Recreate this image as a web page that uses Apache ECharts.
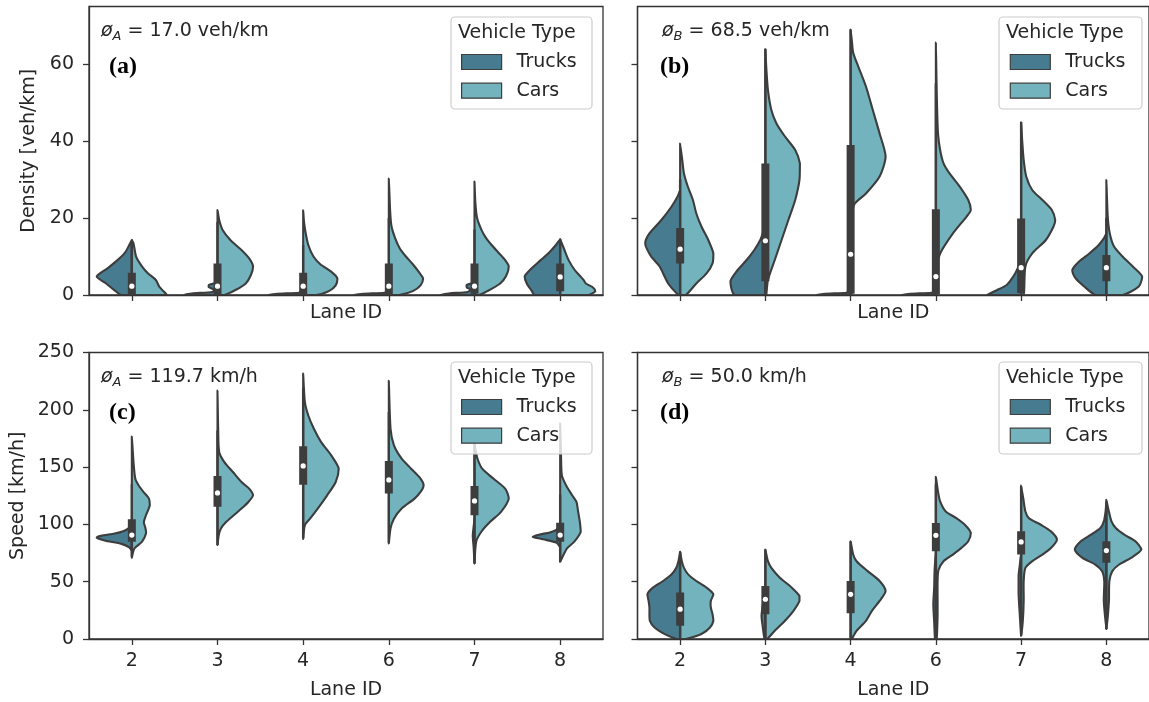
<!DOCTYPE html>
<html><head><meta charset="utf-8">
<script src="https://cdn.jsdelivr.net/npm/echarts@6/dist/echarts.min.js"></script>
<style>html,body{margin:0;padding:0;background:#fff}#c{width:1149px;height:702px}</style>
</head><body><div id="c"></div><script>
// ---------------- data ----------------
const lanes = ['2', '3', '4', '6', '7', '8'];
const laneIndex = [0, 1, 2, 3, 4, 5];
const densityTicks = [0, 20, 40, 60];
const speedTicks = [0, 50, 100, 150, 200, 250];
const densityMax = 75;
const speedMax = 250;
const seriesNames = ['Trucks', 'Cars'];

// violin half profiles: [value, half-width in lane units]
const densityA_trucks = [
  [[0,0.125],[1,0.19],[3,0.30],[4.8,0.41],[7,0.28],[9,0.17],[11,0.08],[13,0.03],[14.3,0]],
  [[0,0.39],[0.4,0.3],[0.8,0.06],[1.4,0.04],[2,0.1],[2.6,0.1],[3.2,0]],
  [[0,0.41],[0.3,0.3],[0.6,0.05],[1,0]],
  [[0,0.41],[0.3,0.3],[0.6,0.05],[1,0]],
  [[0,0.40],[0.4,0.3],[0.8,0.08],[1.4,0.05],[2,0.09],[2.6,0.09],[3.2,0]],
  [[0,0.3],[1,0.33],[3,0.39],[4.8,0.415],[7,0.33],[9,0.23],[11,0.13],[13,0.05],[14.5,0]]
];
const densityA_cars = [
  [[0,0.41],[2.2,0.32],[3.9,0.28],[5.6,0.19],[7.4,0.12],[10,0.05],[13.4,0.02],[14.3,0]],
  [[0,0.08],[1.3,0.21],[3,0.33],[5.2,0.39],[7.4,0.415],[9.5,0.37],[11.7,0.28],[14.3,0.15],[16.9,0.06],[19.5,0.02],[22.1,0]],
  [[0,0.15],[1,0.3],[2.5,0.38],[4.3,0.40],[6,0.33],[8,0.2],[10,0.12],[13,0.06],[16,0.03],[19,0.01],[22,0]],
  [[0,0.12],[1,0.28],[2.5,0.37],[4.3,0.40],[6,0.35],[8,0.28],[10,0.2],[12,0.13],[15,0.07],[18,0.03],[22,0.015],[30.3,0]],
  [[0,0.05],[1,0.15],[3,0.3],[5,0.37],[7.4,0.40],[9,0.36],[11,0.28],[13,0.2],[15,0.13],[17,0.08],[20,0.03],[24,0.01],[29.5,0]],
  [[0,0.33],[1,0.41],[2,0.38],[3,0.3],[4,0.27],[5,0.23],[6.5,0.17],[9,0.1],[11.7,0.05],[14.5,0]]
];
// box: [whiskerLow, q1, median, q3, whiskerHigh]
const densityA_box = [
  [0, 0, 2.3, 5.8, 14], [0, 0, 2.3, 8.2, 19], [0, 0, 2.3, 5.8, 13],
  [0, 0, 2.3, 8.2, 20], [0, 0.3, 2.3, 8.2, 17], [0, 1, 4.7, 8.2, 14.5]
];

const densityB_trucks = [
  [[0,0.02],[3,0.14],[7.4,0.24],[10,0.34],[13.4,0.41],[16,0.36],[19.5,0.22],[23,0.1],[25.6,0.03],[27.3,0]],
  [[0,0.36],[3.5,0.41],[6.1,0.34],[9.1,0.22],[11.7,0.13],[14.3,0.06],[16.9,0.02],[19,0]],
  [[0,0.40],[0.3,0.3],[0.6,0.05],[1,0]],
  [[0,0.40],[0.3,0.3],[0.6,0.05],[1,0]],
  [[0,0.40],[1.3,0.28],[2.6,0.17],[3.9,0.12],[5.6,0.07],[7.4,0.03],[9.1,0]],
  [[0,0.13],[2.2,0.26],[4.3,0.36],[6.5,0.40],[8.7,0.32],[10.8,0.2],[13,0.09],[14.7,0.03],[16,0]]
];
const densityB_cars = [
  [[0,0.065],[3,0.19],[5.6,0.31],[8.2,0.38],[10.8,0.39],[14.3,0.33],[17.8,0.25],[21.2,0.19],[24.7,0.15],[28.2,0.09],[31.6,0.045],[35.1,0.025],[39.4,0]],
  [[0,0.01],[3.9,0.03],[9.1,0.11],[14.3,0.19],[19.5,0.27],[24.7,0.35],[29.9,0.40],[34.2,0.405],[37.7,0.35],[41.2,0.23],[44.6,0.13],[48.1,0.07],[53.3,0.03],[59.4,0.01],[63.9,0]],
  [[0,0.01],[20,0.01],[22,0.02],[23.8,0.05],[26.4,0.18],[30.8,0.34],[36,0.41],[42,0.34],[48.1,0.26],[54.2,0.18],[59.4,0.09],[63,0.03],[66,0.015],[69,0]],
  [[0,0.01],[8,0.02],[10.8,0.05],[16,0.2],[20.4,0.36],[22.1,0.41],[24.7,0.38],[28.2,0.28],[31.6,0.16],[34.2,0.09],[37.7,0.05],[42,0.025],[50.7,0.012],[65.6,0]],
  [[0,0.03],[7.4,0.05],[10.8,0.13],[14.3,0.29],[17.8,0.38],[19.5,0.40],[22.1,0.36],[24.7,0.25],[27.3,0.13],[30.8,0.06],[35.1,0.03],[40.3,0.012],[44.9,0]],
  [[0,0.19],[2.2,0.38],[4.8,0.42],[7.4,0.31],[10,0.19],[12.6,0.09],[16,0.04],[20.4,0.016],[29.9,0]]
];
const densityB_box = [
  [0, 8.2, 11.9, 17.4, 30], [0, 3.6, 14.1, 34.2, 64], [0, 0.3, 10.6, 39, 69],
  [0, 0.2, 4.8, 22.3, 55], [0, 0.5, 7.1, 19.9, 45], [0, 3.6, 7.1, 10.4, 20]
];

const speedA_trucks = [
  [[77,0],[80,0.03],[83,0.12],[86,0.32],[88.4,0.41],[90,0.36],[92,0.2],[94,0.1],[97,0.03],[100,0]],
  [],
  [],
  [],
  [[66,0],[80,0.01],[90,0.02],[98,0.01],[105,0]],
  [[80,0],[84,0.04],[87,0.2],[89.2,0.32],[91,0.25],[93,0.12],[95,0.05],[98,0.01],[100,0]]
];
const speedA_cars = [
  [[71,0],[79,0.03],[84.9,0.12],[92,0.165],[96.5,0.16],[102,0.14],[108,0.165],[116.7,0.21],[122.5,0.2],[128,0.14],[134,0.08],[140,0.04],[154,0.02],[176.7,0]],
  [[82,0],[90.7,0.015],[96.5,0.04],[102,0.1],[108,0.19],[113.8,0.28],[119.6,0.36],[125.4,0.415],[131.2,0.37],[137,0.28],[145.7,0.18],[154.4,0.08],[163,0.02],[183,0.008],[216.7,0]],
  [[87.2,0],[99.4,0.02],[105,0.08],[113.8,0.17],[125.4,0.28],[137,0.38],[148.6,0.415],[160,0.33],[171.8,0.21],[183.4,0.125],[195,0.06],[206.6,0.02],[231.7,0]],
  [[83.4,0],[96.5,0.02],[105,0.06],[113.8,0.15],[122.5,0.3],[128.3,0.37],[134,0.406],[140,0.37],[148.6,0.26],[157.3,0.15],[168.9,0.06],[183.4,0.02],[225.4,0]],
  [[66,0],[85,0.02],[93.6,0.08],[102,0.18],[111,0.31],[122.5,0.40],[131,0.36],[140,0.22],[148.6,0.09],[157.3,0.035],[166,0.01],[171.8,0]],
  [[67.5,0],[79,0.08],[84.9,0.165],[93.6,0.24],[102,0.23],[111,0.21],[119.6,0.19],[125.4,0.14],[134,0.07],[142.8,0.02],[160,0.01],[188.3,0]]
];
const speedA_box = [
  [72, 84.9, 90.7, 104.6, 135], [82, 115.3, 127.5, 142.2, 182], [88, 134.7, 151, 168.3, 219],
  [84, 126.9, 138.8, 155.3, 198], [66, 108, 120.5, 133.5, 171], [67, 84.9, 90.7, 101.4, 126]
];

const speedB_trucks = [
  [[0,0.04],[4.3,0.18],[10,0.3],[15.9,0.355],[21.7,0.36],[27.5,0.36],[33.2,0.37],[39,0.384],[44.8,0.32],[50.6,0.2],[56.4,0.1],[62.1,0.045],[67.9,0.02],[76,0]],
  [[0,0.01],[10,0.03],[20,0.045],[30,0.03],[40,0.01],[48,0]],
  [],
  [[0,0.01],[15,0.02],[30,0.03],[45,0.02],[60,0.015],[75,0]],
  [[3,0],[20,0.015],[40,0.03],[55,0.03],[65,0.015],[75,0]],
  [[8.7,0],[33,0.03],[50.6,0.025],[59.2,0.05],[65,0.13],[70.8,0.28],[78,0.37],[85.3,0.3],[91,0.18],[96.8,0.07],[102.6,0.03],[111,0.01],[120,0]]
];
const speedB_cars = [
  [[0,0.065],[4.3,0.25],[10,0.35],[15.9,0.39],[21.7,0.38],[27.5,0.36],[33.2,0.36],[39,0.39],[44.8,0.31],[50.6,0.19],[56.4,0.094],[62.1,0.045],[67.9,0.02],[76,0]],
  [[0,0.02],[7.2,0.11],[15.9,0.23],[24.6,0.33],[33.2,0.40],[37.6,0.40],[44.8,0.31],[53.5,0.17],[62.1,0.07],[67.9,0.03],[78,0]],
  [[0,0.012],[7.2,0.07],[15.9,0.18],[24.6,0.25],[33.2,0.34],[41.9,0.41],[50.6,0.34],[59.2,0.2],[67.9,0.07],[73.7,0.03],[85.3,0]],
  [[0,0.01],[20,0.02],[35,0.02],[50,0.02],[60,0.03],[67.9,0.09],[73.7,0.2],[79.5,0.3],[85.3,0.38],[92.5,0.41],[99.7,0.34],[105.5,0.24],[111.3,0.115],[120,0.05],[128.6,0.025],[141.6,0]],
  [[2.9,0],[15.9,0.02],[33.2,0.03],[50.6,0.03],[62.1,0.05],[67.9,0.13],[73.7,0.25],[79.5,0.35],[86.7,0.42],[93.9,0.35],[99.7,0.23],[105.5,0.09],[111.3,0.05],[122.8,0.025],[133.8,0]],
  [[8.7,0],[33,0.03],[50.6,0.035],[59.2,0.07],[65,0.15],[70.8,0.29],[78,0.41],[85.3,0.34],[91,0.21],[96.8,0.11],[102.6,0.06],[111,0.03],[121.4,0]]
];
const speedB_box = [
  [0, 11.6, 26, 40.5, 76], [0, 21.7, 34.7, 46.2, 78], [0, 22.5, 39, 50.6, 85],
  [0, 76.6, 90.5, 101.2, 135], [3, 73.7, 84.7, 94, 133], [9, 66.5, 77.2, 85.3, 114]
];

const notes = ['{o|ø}{s|A}{t| = 17.0 veh/km}', '{o|ø}{s|B}{t| = 68.5 veh/km}',
               '{o|ø}{s|A}{t| = 119.7 km/h}', '{o|ø}{s|B}{t| = 50.0 km/h}'];
const tags = ['(a)', '(b)', '(c)', '(d)'];

// ---------------- style / layout ----------------
const TRUCK = '#477c90', CAR = '#73b3bd', EDGE = '#3d3d3d', AXIS = '#333333', TXT = '#262626';
const FONT = 'DejaVu Sans';
const panels = [
  { grid: {left: 89, top: 6.5, width: 514, height: 288.5}, trucks: densityA_trucks, cars: densityA_cars, box: densityA_box,
    yMax: densityMax, yTicks: densityTicks, yLabels: true, xLabels: false, yName: 'Density [veh/km]', yNameGap: 50, xNameGap: 7,
    note: [101, 18.7], tag: [109, 54.7], frame: [451, 17, 141, 92], legend: [461, 51] },
  { grid: {left: 637.5, top: 6.5, width: 514, height: 288.5}, trucks: densityB_trucks, cars: densityB_cars, box: densityB_box,
    yMax: densityMax, yTicks: densityTicks, yLabels: false, xLabels: false, yName: '', yNameGap: 50, xNameGap: 7,
    note: [662, 19], tag: [660, 54.7], frame: [999, 17, 143, 92], legend: [1009.7, 51] },
  { grid: {left: 89, top: 352.5, width: 514, height: 289}, trucks: speedA_trucks, cars: speedA_cars, box: speedA_box,
    yMax: speedMax, yTicks: speedTicks, yLabels: true, xLabels: true, yName: 'Speed [km/h]', yNameGap: 61, xNameGap: 40,
    note: [101, 364.7], tag: [109, 401], frame: [451, 362, 141, 92], legend: [461, 396] },
  { grid: {left: 637.5, top: 352.5, width: 514, height: 289}, trucks: speedB_trucks, cars: speedB_cars, box: speedB_box,
    yMax: speedMax, yTicks: speedTicks, yLabels: false, xLabels: true, yName: '', yNameGap: 61, xNameGap: 40,
    note: [662, 365], tag: [660, 401], frame: [999, 362, 143, 92], legend: [1009.7, 396] }
];

function violinHalf(profiles, side) {
  return function (params, api) {
    const i = params.dataIndex;
    const prof = profiles[i];
    if (!prof || prof.length < 2) return { type: 'group', children: [] };
    const pts = prof.map(p => api.coord([laneIndex[i] + side * p[1], p[0]]));
    const first = prof[0], last = prof[prof.length - 1];
    if (last[1] > 0) pts.push(api.coord([laneIndex[i], last[0]]));
    if (first[1] > 0) pts.push(api.coord([laneIndex[i], first[0]]));
    let x0 = Infinity, y0 = Infinity, x1 = -Infinity, y1 = -Infinity;
    pts.forEach(q => { x0 = Math.min(x0, q[0]); y0 = Math.min(y0, q[1]); x1 = Math.max(x1, q[0]); y1 = Math.max(y1, q[1]); });
    return { type: 'polygon', shape: { points: pts, smooth: 0.25, smoothConstraint: [[x0, y0], [x1, y1]] },
             style: { fill: side < 0 ? TRUCK : CAR, stroke: EDGE, lineWidth: 2.1, lineJoin: 'round' } };
  };
}
function boxRender(boxes) {
  return function (params, api) {
    const i = params.dataIndex;
    const b = boxes[i];
    const lo = api.coord([laneIndex[i], b[0]]), q1 = api.coord([laneIndex[i], b[1]]),
          md = api.coord([laneIndex[i], b[2]]), q3 = api.coord([laneIndex[i], b[3]]), hi = api.coord([laneIndex[i], b[4]]);
    return { type: 'group', children: [
      { type: 'line', shape: { x1: lo[0], y1: lo[1], x2: hi[0], y2: hi[1] }, style: { stroke: EDGE, lineWidth: 2.4 } },
      { type: 'rect', shape: { x: q1[0] - 4, y: q3[1], width: 8, height: Math.max(q1[1] - q3[1], 1) }, style: { fill: EDGE } },
      { type: 'circle', shape: { cx: md[0], cy: md[1], r: 2.6 }, style: { fill: '#ffffff' } }
    ]};
  };
}

const option = { animation: false, grid: [], xAxis: [], yAxis: [], series: [], legend: [], title: [], graphic: { elements: [] } };
panels.forEach((p, k) => {
  option.grid.push(Object.assign({ show: true, borderColor: AXIS, borderWidth: 1.3, backgroundColor: 'transparent' }, p.grid));
  option.xAxis.push({
    type: 'value', gridIndex: k, min: -0.5, max: 5.5,
    name: 'Lane ID', nameLocation: 'middle', nameGap: p.xNameGap,
    nameTextStyle: { fontFamily: FONT, fontSize: 19, color: TXT, lineHeight: 22, verticalAlign: 'top' },
    axisLine: { show: true, onZero: false, lineStyle: { color: AXIS, width: 1.3 } },
    axisTick: { show: true, length: 6, lineStyle: { color: AXIS, width: 1.3 }, customValues: laneIndex },
    axisLabel: { show: p.xLabels, customValues: laneIndex, formatter: v => lanes[Math.round(v)] || '', margin: 13,
                 fontFamily: FONT, fontSize: 19, color: TXT },
    splitLine: { show: false }
  });
  option.yAxis.push({
    type: 'value', gridIndex: k, min: 0, max: p.yMax,
    name: p.yName, nameLocation: 'middle', nameGap: p.yNameGap, nameRotate: 90,
    nameTextStyle: { fontFamily: FONT, fontSize: 19, color: TXT },
    axisLine: { show: true, onZero: false, lineStyle: { color: AXIS, width: 1.3 } },
    axisTick: { show: true, length: 6, lineStyle: { color: AXIS, width: 1.3 }, customValues: p.yTicks },
    axisLabel: { show: p.yLabels, customValues: p.yTicks, margin: 15, fontFamily: FONT, fontSize: 19, color: TXT },
    splitLine: { show: false }
  });
  const data = laneIndex.map(i => [i, p.box[i][2]]);
  option.series.push({ type: 'custom', name: seriesNames[0], xAxisIndex: k, yAxisIndex: k, clip: true, z: 2,
    itemStyle: { color: TRUCK, borderColor: EDGE }, encode: { x: 0, y: 1 }, data: data, renderItem: violinHalf(p.trucks, -1) });
  option.series.push({ type: 'custom', name: seriesNames[1], xAxisIndex: k, yAxisIndex: k, clip: true, z: 2,
    itemStyle: { color: CAR, borderColor: EDGE }, encode: { x: 0, y: 1 }, data: data, renderItem: violinHalf(p.cars, 1) });
  option.series.push({ type: 'custom', name: 'box' + k, xAxisIndex: k, yAxisIndex: k, clip: true, z: 3,
    encode: { x: 0, y: 1 }, data: data, renderItem: boxRender(p.box) });
  option.legend.push({
    data: seriesNames, orient: 'vertical', left: p.legend[0], top: p.legend[1], padding: 0, itemGap: 6.7,
    itemWidth: 40, itemHeight: 15, icon: 'rect', selectedMode: false, z: 20,
    itemStyle: { borderColor: EDGE, borderWidth: 1.2 },
    textStyle: { fontFamily: FONT, fontSize: 19, color: TXT, lineHeight: 22, padding: [0, 0, 0, 10] }
  });
  option.title.push({
    text: notes[k], left: p.note[0], top: p.note[1], padding: 0,
    textStyle: { fontFamily: FONT, fontSize: 19, fontWeight: 'normal', color: TXT, lineHeight: 24,
      rich: { o: { fontFamily: FONT, fontSize: 19, fontWeight: 'normal', fontStyle: 'italic', color: TXT, lineHeight: 24 },
              s: { fontFamily: FONT, fontSize: 13, fontWeight: 'normal', fontStyle: 'italic', color: TXT, lineHeight: 13, verticalAlign: 'bottom' },
              t: { fontFamily: FONT, fontSize: 19, fontWeight: 'normal', color: TXT, lineHeight: 24 } } }
  });
  option.title.push({
    text: tags[k], left: p.tag[0], top: p.tag[1], padding: 0,
    textStyle: { fontFamily: 'Liberation Serif', fontWeight: 'bold', fontSize: 24, color: '#000', lineHeight: 24 }
  });
  option.graphic.elements.push({ type: 'rect', z: 10, shape: { x: p.frame[0], y: p.frame[1], width: p.frame[2], height: p.frame[3], r: 4 },
    style: { fill: 'rgba(255,255,255,0.8)', stroke: '#cccccc', lineWidth: 1.2 } });
  option.graphic.elements.push({ type: 'text', z: 11, x: p.frame[0] + 7, y: p.frame[1] + 16,
    style: { text: 'Vehicle Type', font: '19px "DejaVu Sans"', fill: TXT, verticalAlign: 'middle' } });
});

const chart = echarts.init(document.getElementById('c'), null, { renderer: 'canvas' });
chart.setOption(option);
</script></body></html>
